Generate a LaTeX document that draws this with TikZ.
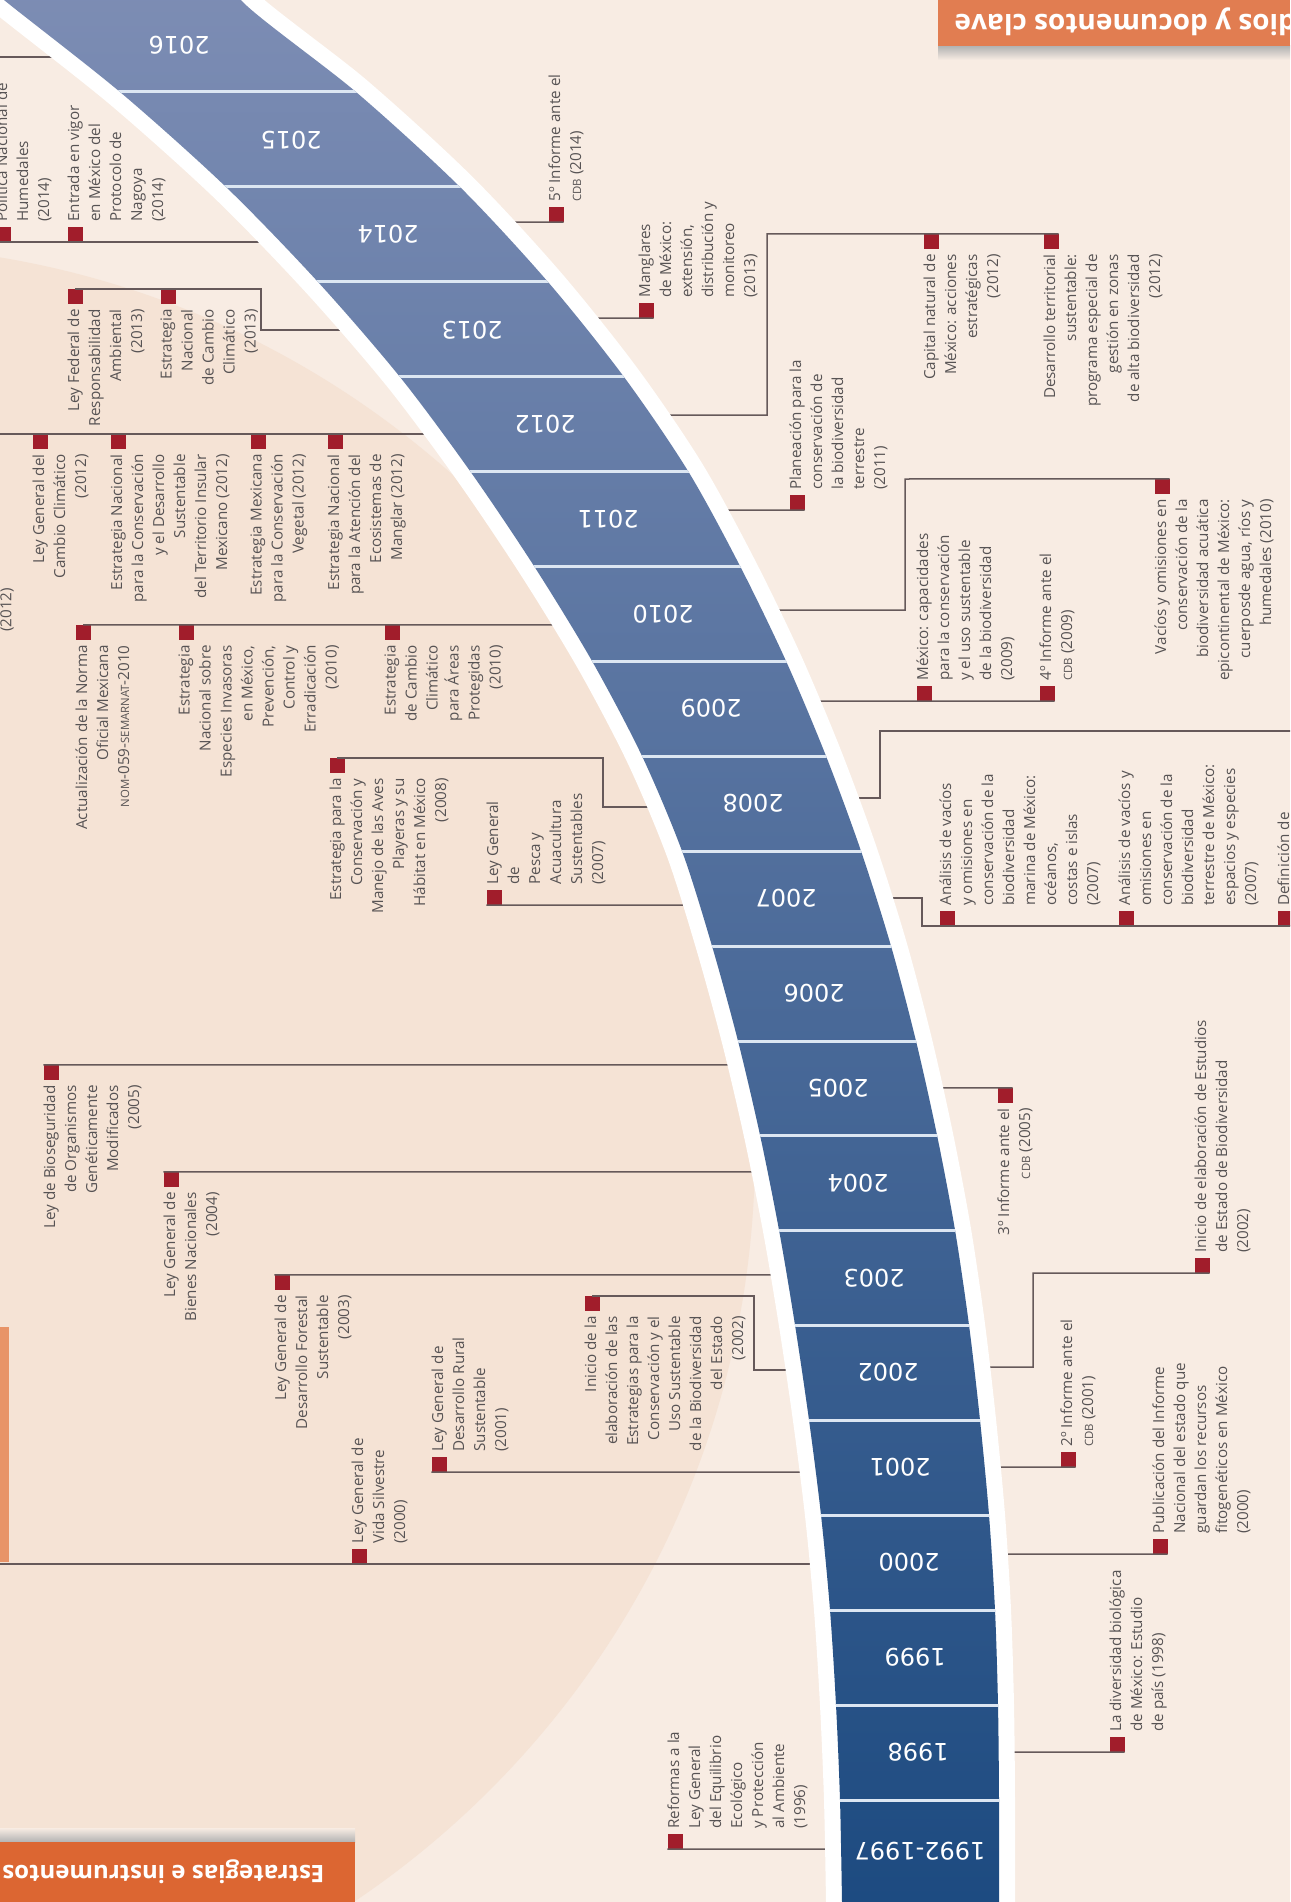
\documentclass[tikz,border=0pt]{standalone}
\usepackage{fontspec}
\setmainfont{Open Sans}
\newfontfamily\aniofont{DejaVu Sans}
\usetikzlibrary{calc,positioning}

\definecolor{fondo}{HTML}{F8ECE3}
\definecolor{circulo}{HTML}{F5E3D5}
\definecolor{bandtop}{HTML}{7D8DB4}
\definecolor{bandbot}{HTML}{1C4A80}
\definecolor{separ}{HTML}{DCE6F2}
\definecolor{hitorojo}{HTML}{A11D2B}
\definecolor{linea}{HTML}{66595A}
\definecolor{texto}{HTML}{575354}
\definecolor{naranja}{HTML}{DC6632}
\definecolor{naranjaclaro}{HTML}{E89468}

\newcommand\evfont{\fontsize{15.2}{21}\selectfont}
\newcommand\sigla[1]{{\fontsize{11.4}{11.4}\selectfont #1}}

\def\bandpath{plot[smooth] coordinates {(-14,-18) (4,0) (120,92) (226,187) (318,282) (400,377) (470,471) (534,566) (592,661) (642,756) (682,851) (712,946) (738,1041) (760,1135) (779,1230) (795,1325) (809,1420) (821,1515) (830,1610) (836,1705) (840,1800) (842,1902) (842,1920)} -- plot[smooth] coordinates {(999,1920) (999,1902) (999,1800) (998,1705) (995,1610) (989,1515) (980,1420) (969,1325) (955,1230) (937,1135) (916,1041) (891,946) (861,851) (826,756) (786,661) (740,566) (688,471) (624,377) (548,282) (460,187) (356,92) (241,0) (263,-18)} -- cycle}

\begin{document}
\begin{tikzpicture}[
  x=1pt, y=-1pt,
  hito/.style={rectangle, fill=hitorojo, minimum size=15pt, inner sep=0pt},
  sube/.style={rotate=90, anchor=north west, align=left, inner sep=0pt, text=texto, font=\evfont},
  cuelga/.style={rotate=90, anchor=north east, align=right, inner sep=0pt, text=texto, font=\evfont},
  enlace/.style={draw=linea, line width=1.5pt},
  anio/.style={rotate=180, text=white, font=\aniofont\fontsize{24}{24}\selectfont},
  separa/.style={draw=separ, line width=3pt},
  cabecera/.style={rotate=180, text=white, font=\bfseries\fontsize{24}{24}\selectfont}
]
  \useasboundingbox (0,0) rectangle (1290,1902);
  \clip (0,0) rectangle (1290,1902);
  \fill[fondo] (0,0) rectangle (1290,1902);
  \fill[circulo] (-150,1150) circle (905);

  % pestanas
  \fill[naranjaclaro] (0,1327) rectangle (9,1562);
  \shade[top color=fondo, bottom color=black!30] (0,1828) rectangle (355,1842);
  \fill[naranja] (0,1842) rectangle (355,1902);
  \node[cabecera, anchor=west] (cab2) at (328,1872) {Estrategias e instrumentos};
  \shade[top color=black!30, bottom color=fondo] (938,46) rectangle (1290,60);
  \fill[naranja!85!white] (938,0) rectangle (1290,46);
  \node[cabecera, anchor=east, font=\bfseries\fontsize{28}{28}\selectfont] (cab1) at (951,22) {Estudios y documentos clave};

  % puntos sobre la banda
  \coordinate (b16l) at (194,57);
  \coordinate (b14l) at (390,242);
  \coordinate (b14r) at (380,222);
  \coordinate (b13l) at (470,330);
  \coordinate (b13r) at (462,318);
  \coordinate (b12l) at (550,434);
  \coordinate (b12r) at (540,415);
  \coordinate (b11r) at (600,510);
  \coordinate (b10l) at (668,625);
  \coordinate (b10r) at (660,610);
  \coordinate (b09r) at (712,701);
  \coordinate (b08l) at (756,807);
  \coordinate (b08r) at (752,798);
  \coordinate (b07l) at (790,905);
  \coordinate (b07r) at (788,898);
  \coordinate (b05l) at (833,1065);
  \coordinate (b05r) at (838,1088);
  \coordinate (b04l) at (857,1172);
  \coordinate (b03l) at (874,1275);
  \coordinate (b02l) at (889,1370);
  \coordinate (b02r) at (889,1367);
  \coordinate (b01l) at (900,1472);
  \coordinate (b01r) at (900,1467);
  \coordinate (b00l) at (909,1564);
  \coordinate (b00r) at (908,1554);
  \coordinate (b98r) at (918,1752);
  \coordinate (b96l) at (920,1849);

  \coordinate (w16) at (-5,57);
  \coordinate (w14) at (-5,242);
  \coordinate (w12) at (-5,434);
  \coordinate (w00) at (-5,1564);
  \coordinate (k13) at (261,330);
  \coordinate (k12) at (767,234);
  \coordinate (k10) at (905,479);
  \coordinate (k08l) at (603,807);
  \coordinate (k08r) at (880,731);
  \coordinate (e08) at (1300,731);
  \coordinate (k07r) at (922,926);
  \coordinate (e07) at (1300,926);
  \coordinate (k02l) at (754,1370);
  \coordinate (k02r) at (1033,1273);

  % estrategias e instrumentos
  \node[hito] (pnh) at (3,234.5) {};
  \node[sube] (tpnh) at ($(pnh.north west)+(0,-5)$) {Política Nacional de\\Humedales\\(2014)};
  \node[hito] (evn) at (75,234.5) {};
  \node[sube] (tevn) at ($(evn.north west)+(0,-5)$) {Entrada en vigor\\en México del\\Protocolo de\\Nagoya\\(2014)};

  \node[hito] (lfr) at (75,296.5) {};
  \node[cuelga] (tlfr) at ($(lfr.south west)+(0,5)$) {Ley Federal de\\Responsabilidad\\Ambiental\\(2013)};
  \node[hito] (encc) at (168,296.5) {};
  \node[cuelga] (tencc) at ($(encc.south west)+(0,5)$) {Estrategia\\Nacional\\de Cambio\\Climático\\(2013)};

  \node[hito] (lgcc) at (40,441.5) {};
  \node[cuelga] (tlgcc) at ($(lgcc.south west)+(0,5)$) {Ley General del\\Cambio Climático\\(2012)};
  \node[hito] (enti) at (118,441.5) {};
  \node[cuelga] (tenti) at ($(enti.south west)+(0,5)$) {Estrategia Nacional\\para la Conservación\\y el Desarrollo\\Sustentable\\del Territorio Insular\\Mexicano (2012)};
  \node[hito] (emcv) at (258,441.5) {};
  \node[cuelga] (temcv) at ($(emcv.south west)+(0,5)$) {Estrategia Mexicana\\para la Conservación\\Vegetal (2012)};
  \node[hito] (enam) at (335,441.5) {};
  \node[cuelga] (tenam) at ($(enam.south west)+(0,5)$) {Estrategia Nacional\\para la Atención del\\Ecosistemas de\\Manglar (2012)};
  \node[sube, anchor=center] (t12x) at (7,610) {(2012)};

  \node[hito] (nom) at (83,632.5) {};
  \node[cuelga] (tnom) at ($(nom.south west)+(0,5)$) {Actualización de la Norma\\Oficial Mexicana\\\sigla{NOM}-059-\sigla{SEMARNAT}-2010};
  \node[hito] (enei) at (186,632.5) {};
  \node[cuelga] (tenei) at ($(enei.south west)+(0,5)$) {Estrategia\\Nacional sobre\\Especies Invasoras\\en México,\\Prevención,\\Control y\\Erradicación\\(2010)};
  \node[hito] (eccap) at (392,632.5) {};
  \node[cuelga] (teccap) at ($(eccap.south west)+(0,5)$) {Estrategia\\de Cambio\\Climático\\para Áreas\\Protegidas\\(2010)};

  \node[hito] (aves) at (337,765.5) {};
  \node[cuelga] (taves) at ($(aves.south west)+(0,5)$) {Estrategia para la\\Conservación y\\Manejo de las Aves\\Playeras y su\\Hábitat en México\\(2008)};
  \node[hito] (pesca) at (494,897.5) {};
  \node[sube] (tpesca) at ($(pesca.north west)+(0,-5)$) {Ley General\\de\\Pesca y\\Acuacultura\\Sustentables\\(2007)};

  \node[hito] (bios) at (51,1072.5) {};
  \node[cuelga] (tbios) at ($(bios.south west)+(0,5)$) {Ley de Bioseguridad\\de Organismos\\Genéticamente\\Modificados\\(2005)};
  \node[hito] (bienes) at (171,1179.5) {};
  \node[cuelga] (tbienes) at ($(bienes.south west)+(0,5)$) {Ley General de\\Bienes Nacionales\\(2004)};
  \node[hito] (forestal) at (282,1282.5) {};
  \node[cuelga] (tforestal) at ($(forestal.south west)+(0,5)$) {Ley General de\\Desarrollo Forestal\\Sustentable\\(2003)};
  \node[hito] (ini) at (592,1303.5) {};
  \node[cuelga] (tini) at ($(ini.south west)+(0,5)$) {Inicio de la\\elaboración de las\\Estrategias para la\\Conservación y el\\Uso Sustentable\\de la Biodiversidad\\del Estado\\(2002)};
  \node[hito] (rural) at (439,1464.5) {};
  \node[sube] (trural) at ($(rural.north west)+(0,-5)$) {Ley General de\\Desarrollo Rural\\Sustentable\\(2001)};
  \node[hito] (vida) at (359,1556.5) {};
  \node[sube] (tvida) at ($(vida.north west)+(0,-5)$) {Ley General de\\Vida Silvestre\\(2000)};
  \node[hito] (reformas) at (675,1841.5) {};
  \node[sube] (treformas) at ($(reformas.north west)+(0,-5)$) {Reformas a la\\Ley General\\del Equilibrio\\Ecológico\\y Protección\\al Ambiente\\(1996)};

  % estudios y documentos clave
  \node[hito] (inf5) at (556,214.5) {};
  \node[sube] (tinf5) at ($(inf5.north west)+(0,-5)$) {5º Informe ante el\\\sigla{CDB} (2014)};
  \node[hito] (mangl) at (646,310.5) {};
  \node[sube] (tmangl) at ($(mangl.north west)+(0,-5)$) {Manglares\\de México:\\extensión,\\distribución y\\monitoreo\\(2013)};
  \node[hito] (cap) at (931,241.5) {};
  \node[cuelga] (tcap) at ($(cap.south west)+(0,5)$) {Capital natural de\\México: acciones\\estratégicas\\(2012)};
  \node[hito] (dts) at (1051,241.5) {};
  \node[cuelga] (tdts) at ($(dts.south west)+(0,5)$) {Desarrollo territorial\\sustentable:\\programa especial de\\gestión en zonas\\de alta biodiversidad\\(2012)};
  \node[hito] (plan) at (797,502.5) {};
  \node[sube] (tplan) at ($(plan.north west)+(0,-5)$) {Planeación para la\\conservación de\\la biodiversidad\\terrestre\\(2011)};
  \node[hito] (vac) at (1162,486.5) {};
  \node[cuelga] (tvac) at ($(vac.south west)+(0,5)$) {Vacíos y omisiones en\\conservación de la\\biodiversidad acuática\\epicontinental de México:\\cuerposde agua, ríos y\\humedales (2010)};
  \node[hito] (capac) at (924,693.5) {};
  \node[sube] (tcapac) at ($(capac.north west)+(0,-5)$) {México: capacidades\\para la conservación\\y el uso sustentable\\de la biodiversidad\\(2009)};
  \node[hito] (inf4) at (1047,693.5) {};
  \node[sube] (tinf4) at ($(inf4.north west)+(0,-5)$) {4º Informe ante el\\\sigla{CDB} (2009)};
  \node[hito] (amar) at (947,918.5) {};
  \node[sube] (tamar) at ($(amar.north west)+(0,-5)$) {Análisis de vacíos\\y omisiones en\\conservación de la\\biodiversidad\\marina de México:\\océanos,\\costas e islas\\(2007)};
  \node[hito] (ater) at (1126,918.5) {};
  \node[sube] (tater) at ($(ater.north west)+(0,-5)$) {Análisis de vacíos y\\omisiones en\\conservación de la\\biodiversidad\\terrestre de México:\\espacios y especies\\(2007)};
  \node[hito] (defi) at (1285,918.5) {};
  \node[sube] (tdefi) at ($(defi.north west)+(0,-5)$) {Definición de};
  \node[hito] (inf3) at (1005,1095.5) {};
  \node[cuelga] (tinf3) at ($(inf3.south west)+(0,5)$) {3º Informe ante el\\\sigla{CDB} (2005)};
  \node[hito] (eeb) at (1202,1265.5) {};
  \node[sube] (teeb) at ($(eeb.north west)+(0,-5)$) {Inicio de elaboración de Estudios\\de Estado de Biodiversidad\\(2002)};
  \node[hito] (inf2) at (1068,1459.5) {};
  \node[sube] (tinf2) at ($(inf2.north west)+(0,-5)$) {2º Informe ante el\\\sigla{CDB} (2001)};
  \node[hito] (pub) at (1160,1546.5) {};
  \node[sube] (tpub) at ($(pub.north west)+(0,-5)$) {Publicación del Informe\\Nacional del estado que\\guardan los recursos\\fitogenéticos en México\\(2000)};
  \node[hito] (ldb) at (1117,1744.5) {};
  \node[sube] (tldb) at ($(ldb.north west)+(0,-5)$) {La diversidad biológica\\de México: Estudio\\de país (1998)};

  % conectores
  \draw[enlace] (w16) -- (b16l);
  \draw[enlace] (w14) -- (b14l);
  \draw[enlace] (lfr.north) -| (k13) -- (b13l);
  \draw[enlace] (w12) -- (b12l);
  \draw[enlace] (nom.north) -- (b10l);
  \draw[enlace] (aves.north) -| (k08l) -- (b08l);
  \draw[enlace] (pesca.south west) -- (b07l);
  \draw[enlace] (bios.north west) -- (b05l);
  \draw[enlace] (bienes.north west) -- (b04l);
  \draw[enlace] (forestal.north west) -- (b03l);
  \draw[enlace] (ini.north) -| (k02l) -- (b02l);
  \draw[enlace] (rural.south west) -- (b01l);
  \draw[enlace] (w00) -- (b00l);
  \draw[enlace] (reformas.south west) -- (b96l);
  \draw[enlace] (b14r) -- (inf5.south east);
  \draw[enlace] (b13r) -- (mangl.south east);
  \draw[enlace] (b12r) -| (k12) -- (dts.north east);
  \draw[enlace] (b11r) -- (plan.south east);
  \draw[enlace] (b10r) -| (k10) -- (vac.north east);
  \draw[enlace] (b09r) -- (inf4.south east);
  \draw[enlace] (b08r) -| (k08r) -- (e08);
  \draw[enlace] (b07r) -| (k07r) -- (e07);
  \draw[enlace] (b05r) -- (inf3.north east);
  \draw[enlace] (b02r) -| (k02r) -- (eeb.south east);
  \draw[enlace] (b01r) -- (inf2.south east);
  \draw[enlace] (b00r) -- (pub.south east);
  \draw[enlace] (b98r) -- (ldb.south east);

  % banda de anios
  \draw[white, line width=32pt, line join=round] \bandpath;
  \shade[top color=bandtop, bottom color=bandbot] \bandpath;
  \begin{scope}
    \clip \bandpath;
    \foreach \k in {0,...,18}
      \draw[separa] (0,{92+94.9*\k}) -- (1290,{92+94.9*\k});
  \end{scope}
  \foreach \yr/\px/\py [count=\i] in {2016/179/45, 2015/291/140, 2014/388/234, 2013/472/330, 2012/545/424, 2011/608/519, 2010/663/614, 2009/711/708, 2008/753/803, 2007/786/898, 2006/814/993, 2005/838/1088, 2004/858/1183, 2003/874/1278, 2002/888/1372, 2001/900/1467, 2000/909/1562, 1999/915/1657, 1998/918/1752, 1992-1997/920/1851}
    \node[anio] (anio\i) at (\px,\py) {\yr};
\end{tikzpicture}
\end{document}
